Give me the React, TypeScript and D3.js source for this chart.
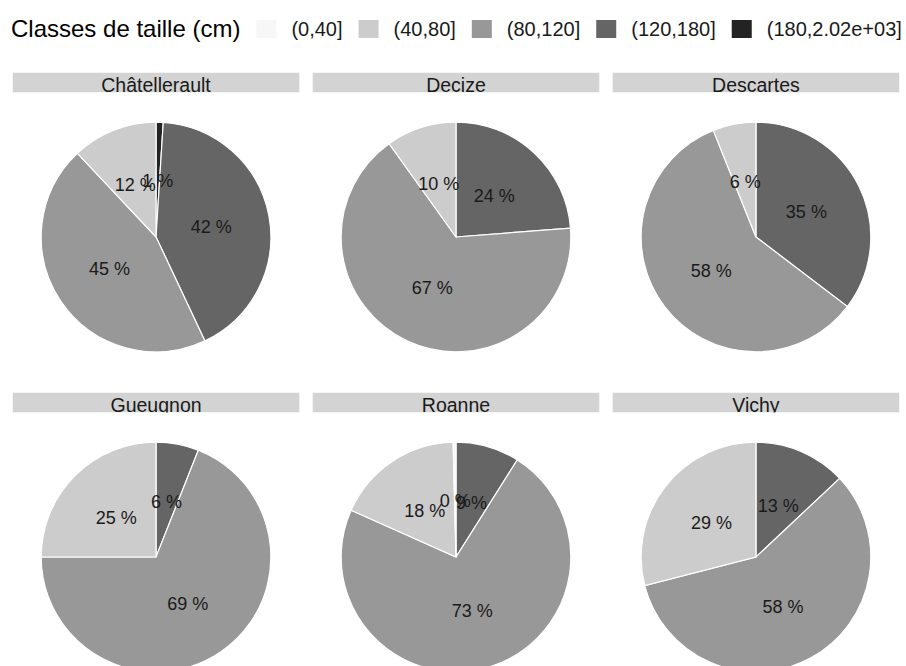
import React, { useRef, useEffect } from 'react';
import * as d3 from 'd3';

// size classes, in the order of the legend
const classes = ['(0,40]', '(40,80]', '(80,120]', '(120,180]', '(180,2.02e+03]'];
const sites = ['Châtellerault', 'Decize', 'Descartes', 'Gueugnon', 'Roanne', 'Vichy'];

// percentage of fish per class and site (null = class absent from the site)
const share0_40 = [null, null, null, null, 0.4, null];
const share40_80 = [12, 10, 6, 25, 18, 29];
const share80_120 = [45, 67, 58, 69, 73, 58];
const share120_180 = [42, 24, 35, 6, 9, 13];
const share180 = [1, null, null, null, null, null];

const greys = ['#F7F7F7', '#CCCCCC', '#989898', '#656565', '#232323'];

const W = 906;
const H = 666;
const FONT = '"Liberation Sans", Arial, sans-serif';

interface Slice {
  cls: string;
  value: number;
}

const App: React.FC = () => {
  const svgRef = useRef<SVGSVGElement | null>(null);

  useEffect(() => {
    const svg = d3.select(svgRef.current);
    svg.selectAll('*').remove();

    const fill = d3.scaleOrdinal<string, string>().domain(classes).range(greys);
    const columns = d3.scaleBand<number>().domain([0, 1, 2]).range([12.5, 899.5]).paddingInner(0.043);
    const rows = d3.scaleBand<number>().domain([0, 1]).range([72.5, 72.5 + 320 * 2 - 11]).paddingInner(11 / 320);
    const stripH = 20;
    const panelW = columns.bandwidth();
    const radius = 0.4 * panelW;

    const byClass = [share0_40, share40_80, share80_120, share120_180, share180];

    // legend
    const legend = svg.append('g');
    const title = legend.append('text')
      .attr('x', 11).attr('y', 37)
      .style('font-family', FONT).style('font-size', '24px')
      .attr('fill', '#000')
      .text('Classes de taille (cm)');
    let x = 11 + (title.node() as SVGTextElement).getComputedTextLength() + 16;
    classes.forEach(cls => {
      legend.append('rect')
        .attr('x', x).attr('y', 20).attr('width', 20).attr('height', 18)
        .attr('fill', fill(cls));
      x += 20 + 15;
      const t = legend.append('text')
        .attr('x', x).attr('y', 36)
        .style('font-family', FONT).style('font-size', '20px')
        .attr('fill', '#1A1A1A')
        .text(cls);
      x += (t.node() as SVGTextElement).getComputedTextLength() + 16;
    });

    const pie = d3.pie<Slice>().sort(null).value(d => d.value);
    const arc = d3.arc<d3.PieArcDatum<Slice>>().innerRadius(0).outerRadius(radius);
    const labelArc = d3.arc<d3.PieArcDatum<Slice>>().innerRadius(radius * 0.49).outerRadius(radius * 0.49);

    sites.forEach((site, i) => {
      const col = i % 3;
      const row = Math.floor(i / 3);
      const x0 = columns(col) || 0;
      const y0 = rows(row) || 0;

      // strip, clipped like ggplot's
      const clipId = `strip-clip-${i}`;
      svg.append('clipPath').attr('id', clipId)
        .append('rect').attr('x', x0).attr('y', y0).attr('width', panelW).attr('height', stripH);
      const strip = svg.append('g').attr('clip-path', `url(#${clipId})`);
      strip.append('rect')
        .attr('x', x0).attr('y', y0).attr('width', panelW).attr('height', stripH)
        .attr('fill', '#D3D3D3');
      strip.append('text')
        .attr('x', x0 + panelW / 2).attr('y', y0 + stripH - 1)
        .attr('text-anchor', 'middle')
        .style('font-family', FONT).style('font-size', '19.5px')
        .attr('fill', '#1A1A1A')
        .text(site);

      // slices, clockwise from 12 o'clock, largest class first
      const slices: Slice[] = [];
      for (let c = classes.length - 1; c >= 0; c--) {
        const v = byClass[c][i];
        if (v !== null) slices.push({ cls: classes[c], value: v });
      }
      const arcs = pie(slices);
      const g = svg.append('g')
        .attr('transform', `translate(${x0 + panelW / 2},${y0 + stripH + 144.5})`);
      g.selectAll('path')
        .data(arcs)
        .enter()
        .append('path')
        .attr('d', d => arc(d) || '')
        .attr('fill', d => fill(d.data.cls))
        .attr('stroke', '#FFFFFF')
        .attr('stroke-width', 1.2);
      g.selectAll('text')
        .data(arcs)
        .enter()
        .append('text')
        .attr('x', d => labelArc.centroid(d)[0])
        .attr('y', d => labelArc.centroid(d)[1])
        .attr('text-anchor', 'middle')
        .attr('dy', '0.35em')
        .style('font-family', FONT).style('font-size', '18px')
        .attr('fill', '#1A1A1A')
        .text(d => `${Math.round(d.data.value)} %`);
    });
  }, []);

  return (
    <svg ref={svgRef} width={W} height={H}
      style={{ position: 'absolute', left: 0, top: 0, background: '#FFFFFF' }} />
  );
};

export default App;
